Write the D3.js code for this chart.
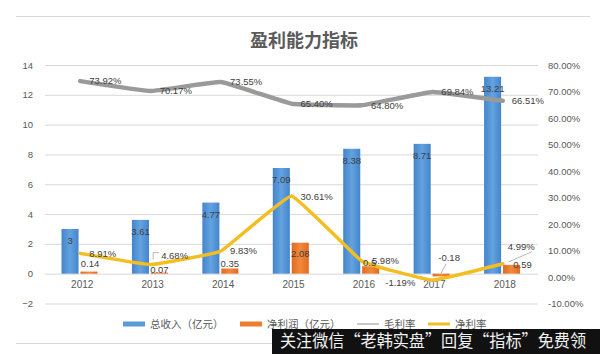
<!DOCTYPE html>
<html>
<head>
<meta charset="utf-8">
<script src="https://cdn.jsdelivr.net/npm/d3@7"></script>
<style>
  body { margin: 0; background: #fff; }
  svg text { font-family: "Liberation Sans", Arial, sans-serif; }
  .cjk { font-family: "Noto Sans CJK SC", sans-serif; }
</style>
</head>
<body>
<div id="chart"></div>
<script>
// data
const years = ['2012', '2013', '2014', '2015', '2016', '2017', '2018'];
const revenue = [3, 3.61, 4.77, 7.09, 8.38, 8.71, 13.21];          // 总收入（亿元）
const netProfit = [0.14, 0.07, 0.35, 2.08, 0.5, -0.18, 0.59];       // 净利润（亿元）
const grossMargin = [73.92, 70.17, 73.55, 65.40, 64.80, 69.84, 66.51]; // 毛利率 %
const netMargin = [8.91, 4.68, 9.83, 30.61, 5.98, -1.19, 4.99];     // 净利率 %
const leftTicks = [-2, 0, 2, 4, 6, 8, 10, 12, 14];
const rightTicks = [-10, 0, 10, 20, 30, 40, 50, 60, 70, 80];
const legendNames = ['总收入（亿元）', '净利润（亿元）', '毛利率', '净利率'];
const title = '盈利能力指标';
const banner = '关注微信“老韩实盘”回复“指标”免费领';

class ProfitChart {
    constructor(_config) {
        this.config = {
            parentElement: _config.parentElement,
            containerWidth: _config.containerWidth || 600,
            containerHeight: _config.containerHeight || 354,
            plot: { left: 45, right: 538, top: 65, bottom: 303.5 }
        };
        this.initVis();
    }

    initVis() {
        const c = this.config;
        this.svg = d3.select(c.parentElement).append('svg')
            .attr('width', c.containerWidth)
            .attr('height', c.containerHeight);

        this.x0 = d3.scaleBand().domain(years).range([c.plot.left, c.plot.right]).padding(0);
        // two bars inside each year band
        this.x1 = d3.scaleBand().domain(['rev', 'np']).range([16.5, 52.5]).paddingInner(0.1);
        this.y = d3.scaleLinear().domain([-2, 14]).range([c.plot.bottom, c.plot.top]);
        this.y2 = d3.scaleLinear().domain([-10, 80]).range([c.plot.bottom, c.plot.top]);

        const defs = this.svg.append('defs');
        const gradB = defs.append('linearGradient').attr('id', 'gradBlue');
        gradB.append('stop').attr('offset', '0%').attr('stop-color', '#4484cc');
        gradB.append('stop').attr('offset', '50%').attr('stop-color', '#64a3df');
        gradB.append('stop').attr('offset', '100%').attr('stop-color', '#4484cc');
        const gradO = defs.append('linearGradient').attr('id', 'gradOrange');
        gradO.append('stop').attr('offset', '0%').attr('stop-color', '#e36a20');
        gradO.append('stop').attr('offset', '50%').attr('stop-color', '#f08a3e');
        gradO.append('stop').attr('offset', '100%').attr('stop-color', '#e36a20');

        this.renderVis();
    }

    renderVis() {
        const vis = this;
        const c = vis.config;
        const svg = vis.svg;
        const bw = vis.x0.bandwidth();
        const cx = d => vis.x0(d) + bw / 2;

        // outer frame lines
        svg.append('line').attr('x1', 16).attr('x2', 590).attr('y1', 16.5).attr('y2', 16.5)
            .attr('stroke', '#d9d9d9');
        svg.append('line').attr('x1', 16).attr('x2', 590).attr('y1', 343.5).attr('y2', 343.5)
            .attr('stroke', '#d9d9d9');

        // title
        svg.append('text').attr('class', 'cjk')
            .attr('x', 304).attr('y', 47)
            .attr('text-anchor', 'middle')
            .style('font-size', '18px').style('font-weight', 'bold')
            .attr('fill', '#5a5a5a')
            .text(title);

        // gridlines + left axis
        const yAxis = d3.axisLeft(vis.y).tickValues(leftTicks)
            .tickSize(-(c.plot.right - c.plot.left)).tickPadding(12);
        const gy = svg.append('g').attr('transform', `translate(${c.plot.left},0)`).call(yAxis);
        gy.select('.domain').remove();
        gy.selectAll('.tick line').attr('stroke', '#d9d9d9');
        gy.selectAll('.tick text').attr('fill', '#595959').style('font-size', '9.5px');

        // right axis
        const y2Axis = d3.axisRight(vis.y2).tickValues(rightTicks)
            .tickSize(0).tickPadding(10).tickFormat(d => d.toFixed(2) + '%');
        const gy2 = svg.append('g').attr('transform', `translate(${c.plot.right},0)`).call(y2Axis);
        gy2.select('.domain').remove();
        gy2.selectAll('.tick text').attr('fill', '#595959').style('font-size', '9.5px');

        // category labels
        const xAxis = d3.axisBottom(vis.x0).tickSize(0).tickPadding(0);
        const gx = svg.append('g').attr('transform', `translate(2,${vis.y(0) + 7})`).call(xAxis);
        gx.select('.domain').remove();
        gx.selectAll('.tick text').attr('fill', '#595959').style('font-size', '10px');

        // revenue bars
        svg.selectAll('.bar-rev').data(years).join('rect')
            .attr('class', 'bar-rev')
            .attr('x', d => vis.x0(d) + vis.x1('rev'))
            .attr('width', vis.x1.bandwidth())
            .attr('y', (d, i) => vis.y(revenue[i]))
            .attr('height', (d, i) => vis.y(0) - vis.y(revenue[i]))
            .attr('fill', 'url(#gradBlue)');

        // net profit bars
        svg.selectAll('.bar-np').data(years).join('rect')
            .attr('class', 'bar-np')
            .attr('x', d => vis.x0(d) + vis.x1('np'))
            .attr('width', vis.x1.bandwidth())
            .attr('y', (d, i) => vis.y(Math.max(0, netProfit[i])))
            .attr('height', (d, i) => Math.abs(vis.y(0) - vis.y(netProfit[i])))
            .attr('fill', 'url(#gradOrange)');

        // lines (nearly straight segments in the original, just softened joints)
        const line = d3.line()
            .x((d, i) => cx(years[i]))
            .y(d => vis.y2(d))
            .curve(d3.curveCardinal.tension(0.75));
        svg.append('path').datum(grossMargin)
            .attr('d', line)
            .attr('fill', 'none').attr('stroke', '#9a9a9a')
            .attr('stroke-width', 4.5).attr('stroke-linejoin', 'round').attr('stroke-linecap', 'round');
        svg.append('path').datum(netMargin)
            .attr('d', line)
            .attr('fill', 'none').attr('stroke', '#f2be22')
            .attr('stroke-width', 3.5).attr('stroke-linejoin', 'round').attr('stroke-linecap', 'round');

        const lbl = (sel) => sel.attr('fill', '#404040').style('font-size', '9.5px');

        // revenue labels, inside end
        svg.selectAll('.lbl-rev').data(years).join('text')
            .attr('class', 'lbl-rev')
            .attr('x', d => vis.x0(d) + vis.x1('rev') + vis.x1.bandwidth() / 2)
            .attr('y', (d, i) => vis.y(revenue[i]) + 12)
            .attr('dy', '0.35em').attr('text-anchor', 'middle')
            .call(lbl)
            .text((d, i) => revenue[i]);

        // net profit labels (label offsets from the bar's center / top)
        const npOffset = [[1, -8], [0, -3], [0, -5], [0, 11], [-1, -4], [8, -16], [11, 0]];
        const npCx = d => vis.x0(d) + vis.x1('np') + vis.x1.bandwidth() / 2;
        svg.selectAll('.lbl-np').data(years).join('text')
            .attr('class', 'lbl-np')
            .attr('x', (d, i) => npCx(d) + npOffset[i][0])
            .attr('y', (d, i) => vis.y(Math.max(0, netProfit[i])) + npOffset[i][1])
            .attr('dy', '0.35em').attr('text-anchor', 'middle')
            .call(lbl)
            .text((d, i) => netProfit[i]);
        // leader for the negative one
        const i17 = 5;
        svg.append('line')
            .attr('x1', npCx(years[i17]) + 5).attr('y1', vis.y(0) + npOffset[i17][1] + 6)
            .attr('x2', npCx(years[i17])).attr('y2', vis.y(0) - 0.5)
            .attr('stroke', '#a6a6a6').attr('stroke-width', 0.8);

        // gross margin labels, right of point
        svg.selectAll('.lbl-gm').data(years).join('text')
            .attr('class', 'lbl-gm')
            .attr('x', d => cx(d) + 9)
            .attr('y', (d, i) => vis.y2(grossMargin[i]))
            .attr('dy', '0.35em')
            .call(lbl)
            .text((d, i) => grossMargin[i].toFixed(2) + '%');

        // net margin labels
        const nmOffset = [[9, 0, 'start'], [10.5, -9, 'start'], [9, 0, 'start'], [9, 1, 'start'],
                          [10, 0, 'start'], [-17, 3, 'end'], [5, -17, 'start']];
        svg.selectAll('.lbl-nm').data(years).join('text')
            .attr('class', 'lbl-nm')
            .attr('x', (d, i) => cx(d) + nmOffset[i][0])
            .attr('y', (d, i) => vis.y2(netMargin[i]) + nmOffset[i][1])
            .attr('dy', '0.35em')
            .attr('text-anchor', (d, i) => nmOffset[i][2])
            .call(lbl)
            .text((d, i) => netMargin[i].toFixed(2) + '%');

        // leader lines for 2013 and 2018 net margin labels
        const lx13 = cx(years[1]) + nmOffset[1][0], ly13 = vis.y2(netMargin[1]) + nmOffset[1][1];
        svg.append('path')
            .attr('d', `M${lx13 - 8},${ly13 + 4}V${ly13 - 3}H${lx13 - 2}`)
            .attr('fill', 'none').attr('stroke', '#a6a6a6').attr('stroke-width', 0.8);
        const lx18 = cx(years[6]) + nmOffset[6][0], ly18 = vis.y2(netMargin[6]) + nmOffset[6][1];
        svg.append('line')
            .attr('x1', lx18 + 24).attr('y1', ly18 + 5)
            .attr('x2', cx(years[6]) + 6).attr('y2', vis.y2(netMargin[6]) - 2)
            .attr('stroke', '#a6a6a6').attr('stroke-width', 0.8);

        // legend
        const legendX = [123, 240, 357, 428];
        const legendColor = ['#5b9bd5', '#ed7d31', '#c8c8c8', '#f2be22'];
        const lg = svg.append('g').attr('transform', 'translate(0,324)');
        legendNames.forEach((name, i) => {
            if (i < 2) {
                lg.append('rect').attr('x', legendX[i]).attr('y', -2.5)
                    .attr('width', 22).attr('height', 5).attr('fill', legendColor[i]);
            } else {
                lg.append('line').attr('x1', legendX[i]).attr('x2', legendX[i] + 22)
                    .attr('y1', 0).attr('y2', 0)
                    .attr('stroke', legendColor[i]).attr('stroke-width', i === 2 ? 2 : 3);
            }
            lg.append('text').attr('class', 'cjk')
                .attr('x', legendX[i] + 27).attr('y', 0).attr('dy', '0.35em')
                .attr('fill', '#595959').style('font-size', '10.5px')
                .text(name);
        });

        // watermark banner over the bottom right
        svg.append('rect').attr('x', 272).attr('y', 329)
            .attr('width', 328).attr('height', 25).attr('fill', '#111');
        svg.append('text').attr('class', 'cjk')
            .attr('x', 280).attr('y', 341.5).attr('dy', '0.36em')
            .attr('fill', '#f2f2f2').style('font-size', '16.5px')
            .attr('textLength', 306).attr('lengthAdjust', 'spacingAndGlyphs')
            .text(banner);
    }
}

new ProfitChart({ parentElement: '#chart' });
</script>
</body>
</html>
